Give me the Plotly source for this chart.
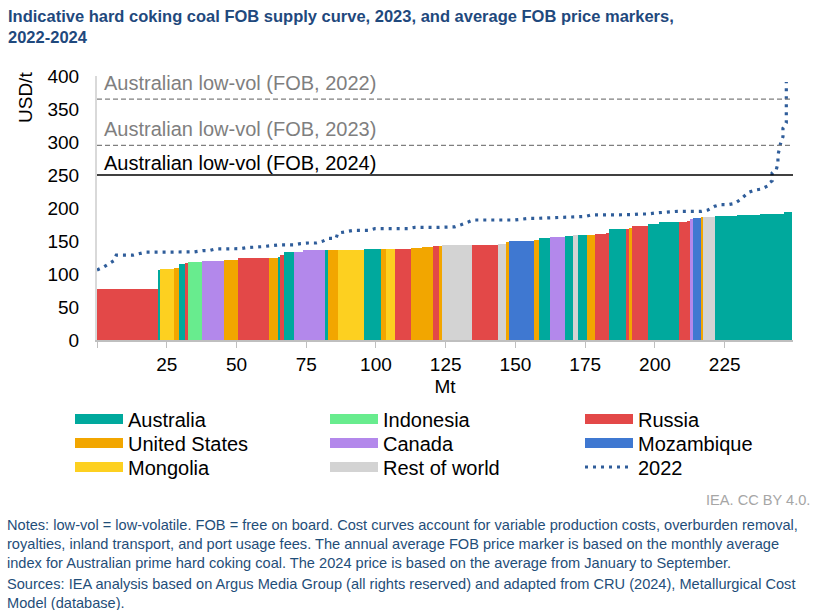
import numpy as np
import plotly.graph_objects as go

# ---------------- data ----------------
countries = ["Australia", "Indonesia", "Russia", "United States", "Canada",
             "Mozambique", "Mongolia", "Rest of world"]
colors = {"Australia": "#00A99D", "Indonesia": "#68EC8E", "Russia": "#E34848",
          "United States": "#F2A600", "Canada": "#B388EB", "Mozambique": "#3F78D1",
          "Mongolia": "#FDD020", "Rest of world": "#D3D3D3"}

# capacity (Mt) of each supply block, in merit order
capacity = [21.7, 0.9, 5.0, 1.9, 2.2, 0.9, 5.0, 7.9, 5.0, 11.3,
            3.0, 0.9, 1.2, 3.8, 3.1, 8.0, 0.9, 3.8, 9.1, 6.1,
            1.9, 3.1, 5.8, 4.0, 4.1, 2.0, 1.1, 10.8, 9.1, 2.9,
            1.1, 8.9, 2.0, 3.9, 5.2, 2.9, 2.0, 3.0, 3.1, 3.9,
            1.2, 5.9, 1.2, 0.9, 5.9, 3.9, 7.2, 2.8, 1.0, 1.1,
            2.8, 1.0, 4.1, 8.0, 8.0, 8.9, 2.9]
# FOB cost (USD/t)
cost = [78, 106.5, 107, 109.5, 115, 117, 118.5, 119.5, 121.5, 123.5,
        124.5, 126.3, 128.3, 132.8, 132.8, 136, 136.4, 136.9, 136.9, 137.4,
        137.4, 137.9, 138.4, 139.4, 140.4, 142, 142.4, 143.9, 143.9, 144.9,
        148.5, 149.5, 151.5, 154.5, 156.6, 158, 158.6, 159, 159.6, 160,
        162, 168.2, 168.7, 169.2, 173.2, 175.8, 178.3, 179.3, 180.3, 183.3,
        184.8, 186.4, 186.4, 187.9, 188.9, 190.4, 194.4]
block_country = ["Russia", "Australia", "Mongolia", "United States", "Australia",
                 "Russia", "Indonesia", "Canada", "United States", "Russia",
                 "United States", "Australia", "Russia", "Australia", "Canada",
                 "Canada", "Australia", "United States", "Mongolia", "Australia",
                 "United States", "Mongolia", "Russia", "United States", "United States",
                 "Russia", "United States", "Rest of world", "Russia", "Rest of world",
                 "United States", "Mozambique", "United States", "Australia", "Canada",
                 "Australia", "Rest of world", "Australia", "United States", "Russia",
                 "Russia", "Australia", "Russia", "United States", "Russia",
                 "Australia", "Australia", "Russia", "Russia", "Canada",
                 "Mozambique", "United States", "Rest of world", "Australia", "Australia",
                 "Australia", "Australia"]

# 2022 supply curve
curve2022_mt = [0, 2.6, 6, 6.9, 12.9, 14.9, 17.3, 34.8, 37.9, 40.2, 42.6, 51.5, 53.9,
                59.3, 62.4, 64.8, 70.7, 72.9, 75.8, 78.6, 80.8, 83, 85.7, 86.3, 89.2,
                91.7, 97.3, 99.6, 111.5, 113.9, 122.5, 125.6, 128.3, 130.5, 132.9,
                134.9, 149.5, 152.1, 154.9, 157.7, 160.5, 163.5, 166.2, 169.2, 172.1,
                175, 177.1, 182.9, 191.9, 194.6, 197.4, 200, 202.7, 205.4, 208.1,
                216.7, 219, 221.4, 223.2, 226.2, 228.6, 230.4, 231.9, 233.6, 235.7,
                238.3, 239.9, 240.7, 241.3, 242, 242, 243.5, 244.1, 244.1, 245,
                245.9, 245.9, 247.1, 247.1]
curve2022_usd = [106, 111, 120, 128.5, 128.5, 131, 133, 133.5, 135.4, 135.4, 138, 138.4, 140,
                 141.4, 142.4, 144, 144, 146, 147, 147, 149.5, 154, 154, 162, 164,
                 166, 166, 168.7, 168.7, 170.7, 170.7, 171.5, 171.5, 174.7, 178.3,
                 181.8, 181.8, 183.3, 184.3, 184.3, 184.8, 185.9, 185.9, 186.9, 186.9,
                 187.2, 189.4, 189.4, 189.9, 190.9, 190.9, 192.4, 193.4, 193.4, 195,
                 195, 197, 202.5, 205, 205, 207, 212, 217, 223.7, 227,
                 228.8, 232.3, 234, 239, 241, 253, 258, 268, 280, 297,
                 308, 321, 329, 391]

price_years = ["2022", "2023", "2024"]
price_values = [365, 295, 250]
price_labels = ["Australian low-vol (FOB, 2022)", "Australian low-vol (FOB, 2023)",
                "Australian low-vol (FOB, 2024)"]

x_ticks = [0, 25, 50, 75, 100, 125, 150, 175, 200, 225]
y_ticks = [0, 50, 100, 150, 200, 250, 300, 350, 400]

legend_rows = [["Australia", "Indonesia", "Russia"],
               ["United States", "Canada", "Mozambique"],
               ["Mongolia", "Rest of world", "2022"]]

# ---------------- layout helpers ----------------
W, H = 828, 610
L, R, T, B = 97, 793, 76, 340
def px(x):
    return (x - L) / (R - L)
def py(y):
    return (B - y) / (B - T)

FONT = "Liberation Sans, Arial, sans-serif"
LINE2022 = dict(color="#2F5D9A", width=3.2, dash="3px,5px")

cap = np.array(capacity)
right = np.cumsum(cap)
left = right - cap
center = (left + right) / 2

fig = go.Figure()
for c in countries:
    idx = [i for i, bc in enumerate(block_country) if bc == c]
    fig.add_trace(go.Bar(
        x=center[idx], y=np.array(cost)[idx], width=cap[idx],
        marker=dict(color=colors[c], line=dict(width=0)),
        name=c, showlegend=False, hoverinfo="x+y"))

fig.add_trace(go.Scatter(
    x=curve2022_mt, y=curve2022_usd, mode="lines", name="2022", showlegend=False,
    line=LINE2022))

# legend entries (wide swatches): per row, one legend for columns 1-2, one for column 3
legend_common = dict(orientation="h", xanchor="left", yanchor="middle",
                     entrywidth=192, entrywidthmode="pixels", itemwidth=48,
                     font=dict(family=FONT, size=20), traceorder="normal",
                     bgcolor="rgba(0,0,0,0)")
row_y = [419, 443, 467]
col_x = [70, 580]
legend_layout = {}
n = 0
for r, row in enumerate(legend_rows):
    groups = [row[:2], row[2:]]
    for g, names in enumerate(groups):
        n += 1
        lid = "legend" if n == 1 else "legend%d" % n
        legend_layout[lid] = dict(x=px(col_x[g]), y=py(row_y[r]), **legend_common)
        for c in names:
            line = LINE2022 if c == "2022" else dict(color=colors[c], width=13)
            fig.add_trace(go.Scatter(x=[None], y=[None], mode="lines", name=c,
                                     line=line, legend=lid))

shapes = []
annotations = []
label_shift = {"2022": 3, "2023": 3, "2024": -1}
for yr, v, lab in zip(price_years, price_values, price_labels):
    solid = yr == "2024"
    col = "#000000" if solid else "#7F7F7F"
    shapes.append(dict(type="line", xref="x domain", yref="y", x0=0, x1=1, y0=v, y1=v,
                       line=dict(color=col, width=1.6 if solid else 1.3,
                                 dash="solid" if solid else "5px,3px")))
    annotations.append(dict(xref="x domain", yref="y", x=0, y=v, xanchor="left",
                            yanchor="bottom", xshift=5, yshift=label_shift[yr],
                            showarrow=False, text=lab,
                            font=dict(family=FONT, size=20, color=col)))

annotations.append(dict(xref="paper", yref="paper", x=px(25), y=py(98), textangle=-90,
                        xanchor="center", yanchor="middle",
                        showarrow=False, text="USD/t",
                        font=dict(family=FONT, size=19, color="#000000")))
annotations.append(dict(xref="paper", yref="paper", x=px(6), y=py(5), xanchor="left",
                        yanchor="top", align="left", showarrow=False,
                        text="<b>Indicative hard coking coal FOB supply curve, 2023, and average FOB price markers,<br>2022-2024</b>",
                        font=dict(family=FONT, size=16.5, color="#1F497D")))
annotations.append(dict(xref="paper", yref="paper", x=px(812), y=py(500), xanchor="right",
                        yanchor="middle", showarrow=False, text="IEA. CC BY 4.0.",
                        font=dict(family=FONT, size=14.6, color="#A6A6A6")))
annotations.append(dict(xref="paper", yref="paper", x=px(5), y=py(515), xanchor="left",
                        yanchor="top", align="left", showarrow=False,
                        text=("Notes: low-vol = low-volatile. FOB = free on board. Cost curves account for variable production costs, overburden removal,<br>"
                              "royalties, inland transport, and port usage fees. The annual average FOB price marker is based on the monthly average<br>"
                              "index for Australian prime hard coking coal. The 2024 price is based on the average from January to September."),
                        font=dict(family=FONT, size=14.6, color="#1F4E79")))
annotations.append(dict(xref="paper", yref="paper", x=px(5), y=py(574), xanchor="left",
                        yanchor="top", align="left", showarrow=False,
                        text=("Sources: IEA analysis based on Argus Media Group (all rights reserved) and adapted from CRU (2024), Metallurgical Cost<br>"
                              "Model (database)."),
                        font=dict(family=FONT, size=14.6, color="#1F4E79")))

fig.update_layout(
    width=W, height=H,
    margin=dict(l=L, r=W - R, t=T, b=H - B, pad=0, autoexpand=False),
    paper_bgcolor="white", plot_bgcolor="white",
    barmode="overlay", bargap=0,
    font=dict(family=FONT, size=19, color="#000000"),
    xaxis=dict(range=[0, 249.5], tickvals=x_ticks,
               ticktext=["" if t == 0 else str(t) for t in x_ticks],
               showgrid=False, zeroline=False, showline=True, linecolor="#BFBFBF",
               linewidth=1.5, ticks="outside", ticklen=6, tickcolor="#BFBFBF",
               tickfont=dict(size=19), title=dict(text="Mt", font=dict(size=19), standoff=6)),
    yaxis=dict(range=[0, 400], tickvals=y_ticks, showgrid=False, zeroline=False,
               showline=True, linecolor="#D9D9D9", linewidth=2, ticks="",
               ticklabelstandoff=12, tickfont=dict(size=19)),
    shapes=shapes, annotations=annotations,
    showlegend=True,
    **legend_layout,
)

fig.write_html("out.html")
